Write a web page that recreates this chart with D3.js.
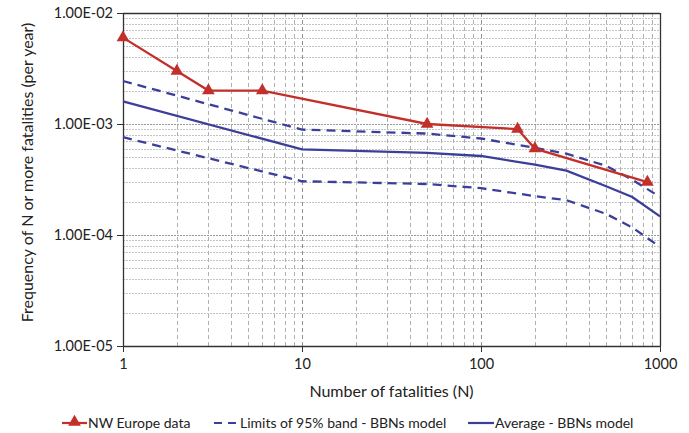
<!DOCTYPE html>
<html>
<head>
<meta charset="utf-8">
<script src="https://cdn.jsdelivr.net/npm/d3@7"></script>
<style>
  body { margin: 0; background: #fff; }
  text { font-family: Lato, "Open Sans", sans-serif; fill: #222; }
</style>
</head>
<body>
<div id="chart"></div>
<script>
// ---- data ----
const europeN = [1, 2, 3, 6, 50, 160, 200, 850];
const europeFreq = [6e-3, 3e-3, 2e-3, 2e-3, 1e-3, 9e-4, 6e-4, 3e-4];

const modelN = [1, 10, 50, 100, 200, 300, 500, 700, 1000];
const upperFreq = [2.44e-3, 8.9e-4, 8.2e-4, 7.4e-4, 6.1e-4, 5.4e-4, 4.2e-4, 3.15e-4, 2.2e-4];
const meanFreq = [1.6e-3, 5.9e-4, 5.5e-4, 5.15e-4, 4.3e-4, 3.8e-4, 2.75e-4, 2.2e-4, 1.47e-4];
const lowerFreq = [7.6e-4, 3.05e-4, 2.88e-4, 2.64e-4, 2.24e-4, 2.06e-4, 1.55e-4, 1.17e-4, 7.8e-5];

const xTicks = [1, 10, 100, 1000];
const yTicks = [1e-5, 1e-4, 1e-3, 1e-2];
const yTickLabels = ['1.00E-05', '1.00E-04', '1.00E-03', '1.00E-02'];

const legendLabels = ['NW Europe data', 'Limits of 95% band - BBNs model', 'Average - BBNs model'];

// ---- layout ----
const W = 689, H = 433;
const margin = { top: 13, right: 29, bottom: 87, left: 123 };
const width = W - margin.left - margin.right,
  height = H - margin.top - margin.bottom;

const red = '#c3302b';
const blue = '#3c3f99';

const svg = d3.select('#chart')
  .append('svg')
  .attr('width', W)
  .attr('height', H);

const g = svg.append('g')
  .attr('transform', 'translate(' + margin.left + ',' + margin.top + ')');

const x = d3.scaleLog().domain([1, 1000]).range([0, width]);
const y = d3.scaleLog().domain([1e-5, 1e-2]).range([height, 0]);

// minor values for gridlines
const xMinor = [];
[1, 10, 100].forEach(d => { for (let k = 1; k <= 9; k++) xMinor.push(d * k); });
xMinor.push(1000);
const yMinor = [];
[1e-5, 1e-4, 1e-3].forEach(d => { for (let k = 1; k <= 9; k++) yMinor.push(d * k); });
yMinor.push(1e-2);

// gridlines
g.append('g').selectAll('line')
  .data(yMinor.filter(d => !yTicks.includes(d)))
  .join('line')
  .attr('x1', 0).attr('x2', width)
  .attr('y1', d => Math.round(y(d)) + 0.5).attr('y2', d => Math.round(y(d)) + 0.5)
  .attr('stroke', '#c4c4c4')
  .attr('stroke-dasharray', '2,1');

g.append('g').selectAll('line')
  .data(yTicks)
  .join('line')
  .attr('x1', 0).attr('x2', width)
  .attr('y1', d => Math.round(y(d)) + 0.5).attr('y2', d => Math.round(y(d)) + 0.5)
  .attr('stroke', '#999')
  .attr('stroke-dasharray', '2,1');

g.append('g').selectAll('line')
  .data(xMinor.filter(d => !xTicks.includes(d)))
  .join('line')
  .attr('x1', d => Math.round(x(d)) + 0.5).attr('x2', d => Math.round(x(d)) + 0.5)
  .attr('y1', 0).attr('y2', height)
  .attr('stroke', '#b0b0b0')
  .attr('stroke-dasharray', '4,3');

g.append('g').selectAll('line')
  .data(xTicks)
  .join('line')
  .attr('x1', d => Math.round(x(d)) + 0.5).attr('x2', d => Math.round(x(d)) + 0.5)
  .attr('y1', 0).attr('y2', height)
  .attr('stroke', '#909090')
  .attr('stroke-dasharray', '4,3');

// frame: top and right
g.append('line').attr('x1', 0).attr('x2', width).attr('y1', 0.5).attr('y2', 0.5)
  .attr('stroke', '#333').attr('stroke-width', 1.3);
g.append('line').attr('x1', width + 0.5).attr('x2', width + 0.5).attr('y1', 0).attr('y2', height)
  .attr('stroke', '#333').attr('stroke-width', 1.3);

// axes
const yAxis = d3.axisLeft(y)
  .tickValues(yTicks)
  .tickSize(6)
  .tickPadding(4)
  .tickFormat((d, i) => yTickLabels[i]);

const xAxis = d3.axisBottom(x)
  .tickValues(xTicks)
  .tickSize(6)
  .tickPadding(7)
  .tickFormat(d3.format('d'));

g.append('g')
  .attr('class', 'axis')
  .call(yAxis)
  .call(a => a.select('.domain').attr('stroke', '#333').attr('stroke-width', 1.3).attr('d', 'M0.5,0V' + height))
  .call(a => a.selectAll('.tick line').attr('stroke', '#333'))
  .call(a => a.selectAll('.tick text').attr('font-size', 14.5).attr('fill', '#222'));

g.append('g')
  .attr('class', 'axis')
  .attr('transform', 'translate(0,' + height + ')')
  .call(xAxis)
  .call(a => a.select('.domain').attr('stroke', '#333').attr('stroke-width', 1.3).attr('d', 'M0,0.5H' + width))
  .call(a => a.selectAll('.tick line').attr('stroke', '#333'))
  .call(a => a.selectAll('.tick text').attr('font-size', 14.5).attr('fill', '#222'));

// axis titles
g.append('text')
  .attr('x', width / 2)
  .attr('y', height + 51)
  .attr('text-anchor', 'middle')
  .attr('font-size', 16)
  .text('Number of fatalities (N)');

g.append('text')
  .attr('transform', 'translate(' + (-90) + ',' + (height / 2 - 7) + ') rotate(-90)')
  .attr('text-anchor', 'middle')
  .attr('font-size', 16)
  .text('Frequency of N or more fatalities (per year)');

// lines
const line = d3.line()
  .x(d => x(d[0]))
  .y(d => y(d[1]));

const series = [
  { n: modelN, v: upperFreq, color: blue, dash: '9,6' },
  { n: modelN, v: lowerFreq, color: blue, dash: '9,6' },
  { n: modelN, v: meanFreq, color: blue, dash: null },
  { n: europeN, v: europeFreq, color: red, dash: null }
];

series.forEach(s => {
  g.append('path')
    .datum(d3.zip(s.n, s.v))
    .attr('fill', 'none')
    .attr('stroke', s.color)
    .attr('stroke-width', 2.3)
    .attr('stroke-dasharray', s.dash)
    .attr('d', line);
});

const tri = d3.symbol().type(d3.symbolTriangle).size(70);
g.append('g').selectAll('path')
  .data(d3.zip(europeN, europeFreq))
  .join('path')
  .attr('d', tri)
  .attr('fill', red)
  .attr('transform', d => 'translate(' + x(d[0]) + ',' + y(d[1]) + ')');

// legend
const ly = 423;
const legend = svg.append('g');
legend.append('line').attr('x1', 62).attr('x2', 87).attr('y1', ly).attr('y2', ly)
  .attr('stroke', red).attr('stroke-width', 2.2);
legend.append('path').attr('d', tri).attr('fill', red)
  .attr('transform', 'translate(74.5,' + (ly - 1) + ')');
legend.append('text').attr('x', 88).attr('y', ly + 5).attr('font-size', 14).text(legendLabels[0]);

legend.append('line').attr('x1', 214).attr('x2', 238).attr('y1', ly).attr('y2', ly)
  .attr('stroke', blue).attr('stroke-width', 2.2).attr('stroke-dasharray', '8,6');
legend.append('text').attr('x', 240).attr('y', ly + 5).attr('font-size', 14).text(legendLabels[1]);

legend.append('line').attr('x1', 468).attr('x2', 494).attr('y1', ly).attr('y2', ly)
  .attr('stroke', blue).attr('stroke-width', 2.2);
legend.append('text').attr('x', 495).attr('y', ly + 5).attr('font-size', 14).text(legendLabels[2]);
</script>
</body>
</html>
